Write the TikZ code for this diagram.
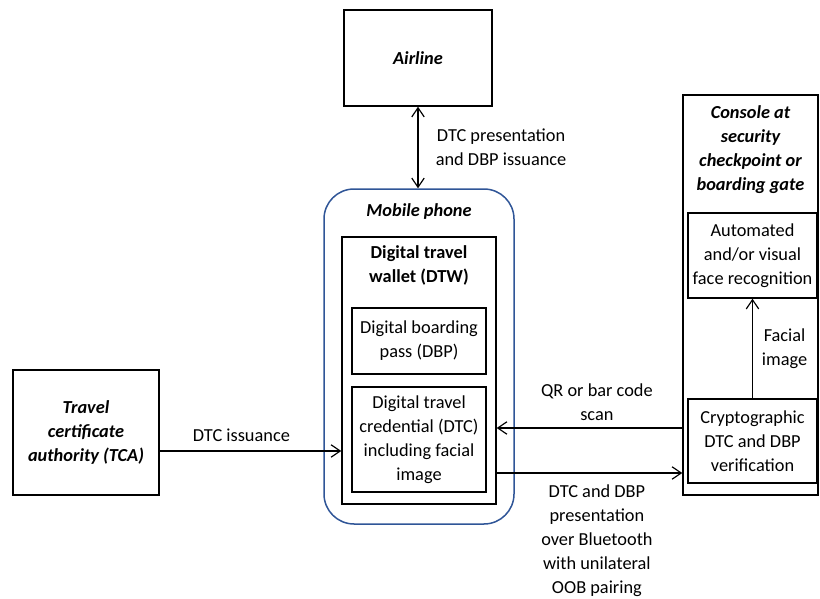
\documentclass[tikz,border=0pt]{standalone}
\usepackage{fontspec}
\setmainfont{Carlito}
\usetikzlibrary{arrows.meta}
\definecolor{phoneblue}{RGB}{47,85,151}

\begin{document}
\begin{tikzpicture}[
    x=0.6pt, y=-0.6pt,
    font=\fontsize{11}{14.4}\selectfont,
    box/.style={rectangle, draw, line width=0.9pt, inner sep=0pt, align=center},
    heading/.style={align=center, font=\fontsize{11}{14.4}\selectfont\bfseries\itshape},
    arrow/.style={->, line width=0.7pt, >={Straight Barb[length=5.5pt,width=7.5pt]}},
    lbl/.style={align=center}
]
    \useasboundingbox (0,0) rectangle (820,599);

    % Nodes
    \node[box, minimum width=88.8pt, minimum height=57.6pt, heading] (airline) at (418,58) {Airline};
    \node[box, minimum width=87.6pt, minimum height=75pt, heading] (tca) at (86,432.5) {Travel\\certificate\\authority (TCA)};

    \node[box, draw=phoneblue, rounded corners=18pt, minimum width=114pt, minimum height=201pt] (phone) at (419,356.5) {};
    \node[heading] (phonetitle) at (419,212) {Mobile phone};
    \node[box, minimum width=92.4pt, minimum height=160.2pt] (dtw) at (419,370.5) {};
    \node[align=center, font=\fontsize{11}{14.4}\selectfont\bfseries] (dtwtitle) at (419,265) {Digital travel\\wallet (DTW)};
    \node[box, minimum width=80.4pt, minimum height=39.6pt] (dbp) at (419,341) {Digital boarding\\pass (DBP)};
    \node[box, minimum width=80.4pt, minimum height=63pt] (dtc) at (419,439.5) {Digital travel\\credential (DTC)\\including facial\\image};

    \node[box, minimum width=81pt, minimum height=240pt] (console) at (750.5,295) {};
    \node[heading] (consoletitle) at (750.5,150) {Console at\\security\\checkpoint or\\boarding gate};
    \node[box, minimum width=77.4pt, minimum height=51pt] (face) at (752.5,255.5) {Automated\\and/or visual\\face recognition};
    \node[box, minimum width=77.4pt, minimum height=50.4pt] (crypto) at (752.5,441) {Cryptographic\\DTC and DBP\\verification};

    \coordinate (issue) at ([yshift=-11.1pt]tca.east);
    \coordinate (scan) at ([yshift=7.8pt]crypto.west);
    \coordinate (oob) at ([yshift=-19.2pt]crypto.west);

    % Arrows
    \draw[arrow, <->] (airline.south) -- (airline.south |- phone.north)
        node[midway, right, lbl, xshift=7pt] {DTC presentation\\and DBP issuance};
    \draw[arrow] (issue) -- (issue -| dtw.west)
        node[pos=0.45, above, yshift=2pt] {DTC issuance};
    \draw[arrow] (scan -| console.west) -- (scan -| dtw.east)
        node[pos=0.46, above, lbl, yshift=1pt] {QR or bar code\\scan};
    \draw[arrow] (oob -| dtw.east) -- (oob -| console.west)
        node[pos=0.54, below, lbl, yshift=-3.5pt] {DTC and DBP\\presentation\\over Bluetooth\\with unilateral\\OOB pairing};
    \draw[arrow] (crypto.north) -- (face.south)
        node[midway, right, lbl, xshift=2pt] {Facial\\image};
\end{tikzpicture}
\end{document}
